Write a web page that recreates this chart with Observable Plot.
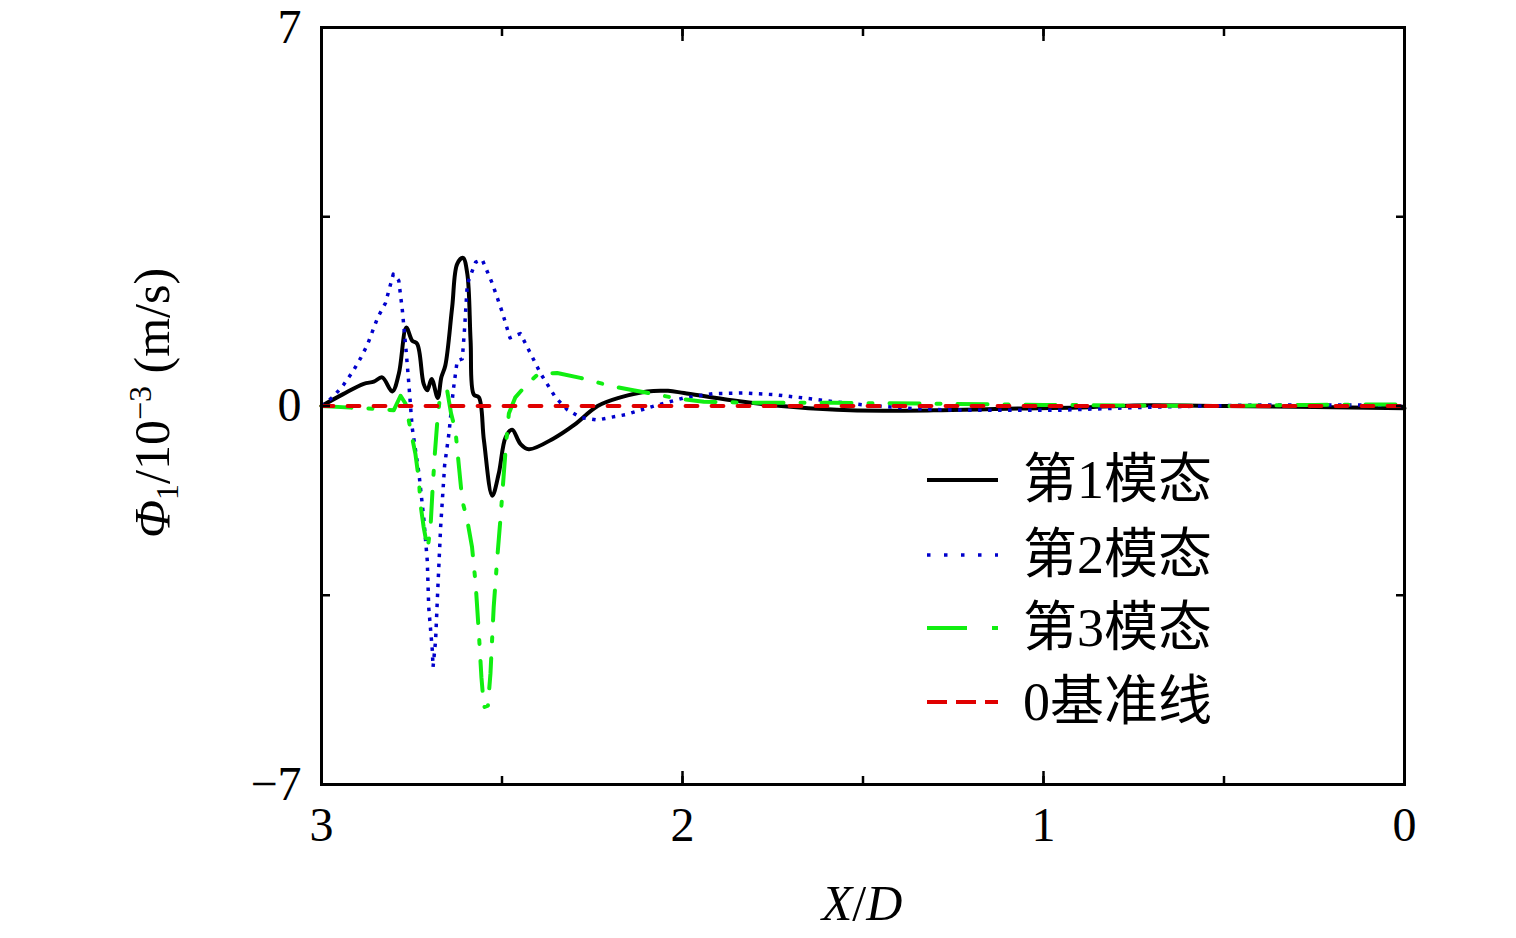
<!DOCTYPE html>
<html>
<head>
<meta charset="utf-8">
<script src="https://cdn.jsdelivr.net/npm/d3@7"></script>
<script src="https://cdn.jsdelivr.net/npm/@observablehq/plot@0.6"></script>
<style>
html,body{margin:0;padding:0;background:#fff;}
#chart{width:1516px;height:938px;}
</style>
</head>
<body>
<div id="chart"></div>
<script>
// ---- data ----
const mode1X = [3.000,2.940,2.883,2.855,2.832,2.804,2.786,2.765,2.749,2.735,2.717,2.707,2.695,2.678,2.668,2.657,2.638,2.624,2.608,2.596,2.587,2.578,2.564,2.550,2.527,2.509,2.490,2.472,2.449,2.426,2.357,2.300,2.235,2.172,2.098,2.040,1.996,1.858,1.692,1.535,1.305,1.100,0.900,0.750,0.500,0.250,0.000];
const mode1Y = [0,0.22,0.41,0.45,0.53,0.27,0.59,1.45,1.21,1.15,0.41,0.29,0.50,0.15,0.53,0.75,1.83,2.63,2.74,2.44,1.21,0.21,0.16,-0.64,-1.66,-1.25,-0.58,-0.44,-0.70,-0.80,-0.60,-0.35,0.00,0.16,0.27,0.28,0.24,0.10,-0.02,-0.08,-0.08,-0.05,-0.03,0.01,0.00,-0.02,-0.04];

const mode2X = [3.000,2.966,2.938,2.913,2.892,2.873,2.844,2.823,2.801,2.786,2.776,2.765,2.758,2.749,2.730,2.717,2.707,2.703,2.693,2.691,2.684,2.678,2.670,2.659,2.647,2.635,2.624,2.610,2.604,2.596,2.573,2.555,2.527,2.499,2.478,2.449,2.430,2.393,2.352,2.319,2.283,2.236,2.199,2.158,2.079,1.996,1.913,1.830,1.747,1.665,1.581,1.498,1.415,1.332,1.211,0.962,0.750,0.550,0.399,0.104,0.000];
const mode2Y = [0,0.18,0.40,0.64,0.88,1.13,1.64,1.90,2.44,2.32,1.77,0.97,0.41,-0.39,-1.25,-2.06,-2.86,-3.72,-4.52,-4.83,-4.34,-3.41,-2.24,-1.10,-0.51,0.29,0.84,0.87,1.40,2.26,2.66,2.71,2.27,1.73,1.26,1.34,1.09,0.60,0.16,-0.07,-0.21,-0.26,-0.21,-0.16,0.00,0.15,0.23,0.24,0.21,0.15,0.08,0.02,-0.02,-0.06,-0.08,-0.08,-0.03,0.00,0.02,0.02,0.00];

const mode3X = [3.000,2.920,2.855,2.800,2.781,2.767,2.753,2.740,2.730,2.726,2.717,2.706,2.698,2.692,2.686,2.679,2.672,2.652,2.641,2.629,2.620,2.610,2.596,2.583,2.573,2.564,2.557,2.550,2.539,2.532,2.523,2.513,2.504,2.495,2.488,2.481,2.463,2.430,2.398,2.347,2.283,2.204,2.144,2.006,1.941,1.803,1.673,1.581,1.443,1.267,1.000,0.750,0.500,0.250,0.000];
const mode3Y = [0,-0.03,-0.05,-0.08,0.19,0.04,-0.45,-0.88,-1.38,-1.81,-2.24,-2.64,-2.24,-1.50,-0.88,-0.27,0.16,0.29,-0.14,-0.45,-1.07,-1.75,-2.12,-2.61,-3.29,-4.21,-5.02,-5.57,-5.54,-4.95,-3.72,-2.80,-2.06,-1.25,-0.64,-0.14,0.16,0.41,0.60,0.61,0.52,0.38,0.30,0.13,0.08,0.06,0.06,0.06,0.05,0.04,0.02,0.01,0.00,0.02,0.03];

const baseX = [3, 0];
const baseY = [0, 0];

const xTicks = [3, 2.5, 2, 1.5, 1, 0.5, 0];
const xMajorTicks = [3, 2, 1, 0];
const xTickLabels = [3, 2, 1, 0];
const yTicks = [-7, -3.5, 0, 3.5, 7];
const yTickLabels = [-7, 0, 7];
const legendLabels = ["第1模态", "第2模态", "第3模态", "0基准线"];

// ---- styles ----
const serif = "'Liberation Serif','Times New Roman',serif";
const mixedFont = "'Liberation Serif','Noto Sans CJK SC',serif";
const styles = [
  {stroke: "#000000", width: 4, dash: null, legendDash: null},
  {stroke: "#0000cc", width: 3.5, dash: "3.5,6.5", legendDash: "3.5,13.5"},
  {stroke: "#11ee11", width: 4, dash: "30,17,4,17", legendDash: "40,25,7,0"},
  {stroke: "#e00000", width: 3.8, dash: "12,14", legendDash: "20,9"}
];

const fmt = d => (d < 0 ? "\u2212" + Math.abs(d) : String(d));
const rows = (xs, ys) => xs.map((x, i) => ({x, y: ys[i]}));

const plot = Plot.plot({
  width: 1516,
  height: 938,
  marginLeft: 321,
  marginRight: 112,
  marginTop: 27,
  marginBottom: 154,
  x: {domain: [3, 0], label: null},
  y: {domain: [-7, 7], label: null},
  style: {fontFamily: serif, fontSize: "48px", color: "#000", background: "#fff", overflow: "visible"},
  marks: [
    Plot.line(rows(mode1X, mode1Y), {x: "x", y: "y", stroke: styles[0].stroke, strokeWidth: styles[0].width, curve: "catmull-rom"}),
    Plot.line(rows(mode2X, mode2Y), {x: "x", y: "y", stroke: styles[1].stroke, strokeWidth: styles[1].width, strokeDasharray: styles[1].dash, strokeLinecap: "butt"}),
    Plot.line(rows(mode3X, mode3Y), {x: "x", y: "y", stroke: styles[2].stroke, strokeWidth: styles[2].width, strokeDasharray: styles[2].dash}),
    Plot.line(rows(baseX, baseY), {x: "x", y: "y", stroke: styles[3].stroke, strokeWidth: styles[3].width, strokeDasharray: styles[3].dash}),
    Plot.frame({stroke: "#000", strokeWidth: 3}),
    Plot.axisX(xTicks, {anchor: "bottom", tickSize: -8, tickFormat: () => "", strokeWidth: 2.5}),
    Plot.axisX(xTicks, {anchor: "top", tickSize: -8, tickFormat: () => "", strokeWidth: 2.5}),
    Plot.axisX(xMajorTicks, {anchor: "bottom", tickSize: -13, tickFormat: () => "", strokeWidth: 2.5}),
    Plot.axisX(xMajorTicks, {anchor: "top", tickSize: -13, tickFormat: () => "", strokeWidth: 2.5}),
    Plot.axisY(yTicks, {anchor: "left", tickSize: -9, tickFormat: () => "", strokeWidth: 2.5}),
    Plot.axisY(yTicks, {anchor: "right", tickSize: -9, tickFormat: () => "", strokeWidth: 2.5}),
    Plot.axisX(xTickLabels, {anchor: "bottom", tickSize: 0, tickPadding: 22, fontSize: 48, fontFamily: serif, tickFormat: fmt}),
    Plot.axisY(yTickLabels, {anchor: "left", tickSize: 0, tickPadding: 20, fontSize: 48, fontFamily: serif, tickFormat: fmt})
  ]
});

document.getElementById("chart").appendChild(plot);

// ---- axis titles with rich text ----
const svg = d3.select(plot);

const xt = svg.append("text")
  .attr("x", 862).attr("y", 920)
  .attr("text-anchor", "middle")
  .attr("font-family", serif).attr("font-size", 50).attr("fill", "#000");
xt.append("tspan").attr("font-style", "italic").text("X");
xt.append("tspan").text("/");
xt.append("tspan").attr("font-style", "italic").text("D");

const yt = svg.append("text")
  .attr("transform", "translate(169,403) rotate(-90)")
  .attr("text-anchor", "middle")
  .attr("font-family", serif).attr("font-size", 50).attr("fill", "#000");
yt.append("tspan").attr("font-style", "italic").text("Φ");
yt.append("tspan").attr("font-size", 32).attr("dy", 9).text("1");
yt.append("tspan").attr("dy", -9).text("/10");
yt.append("tspan").attr("font-size", 32).attr("dy", -18).text("−3");
yt.append("tspan").attr("dy", 18).text(" (m/s)");

// ---- legend ----
const legendRowY = [480, 555, 628, 702];
const lg = svg.append("g").attr("text-anchor", "start");
legendLabels.forEach((label, i) => {
  const s = styles[i];
  const ln = lg.append("line")
    .attr("x1", 927).attr("x2", 998)
    .attr("y1", legendRowY[i]).attr("y2", legendRowY[i])
    .attr("stroke", s.stroke).attr("stroke-width", s.width);
  if (s.legendDash) ln.attr("stroke-dasharray", s.legendDash);
  lg.append("text")
    .attr("x", 1023).attr("y", legendRowY[i])
    .attr("text-anchor", "start")
    .attr("dominant-baseline", "central")
    .attr("font-family", mixedFont).attr("font-size", 54).attr("fill", "#000")
    .text(label);
});
</script>
</body>
</html>
